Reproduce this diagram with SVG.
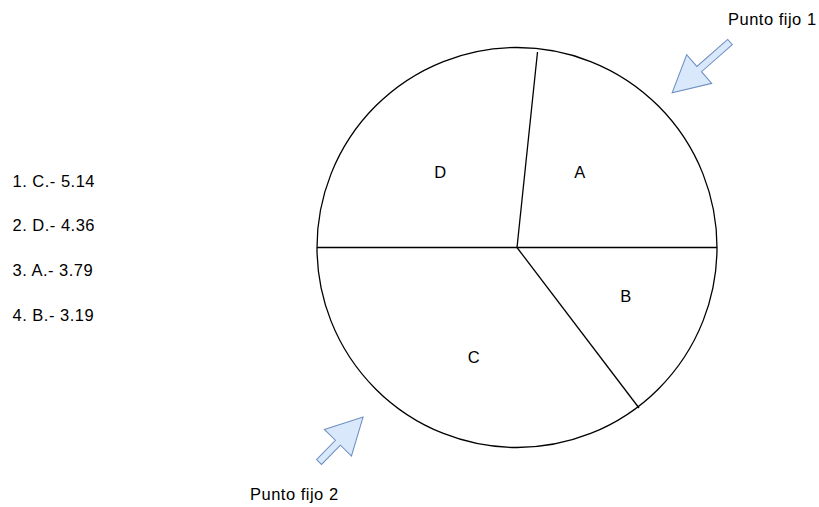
<svg xmlns="http://www.w3.org/2000/svg" width="819" height="507" viewBox="0 0 819 507">
<style>
text{font-family:"Liberation Sans",Arial,sans-serif;font-size:16.5px;letter-spacing:0.5px;fill:#000}
.ln{stroke:#000;stroke-width:1.3;fill:none}
.arr{fill:#dae8fc;stroke:#6c8ebf;stroke-width:1}
</style>
<defs>
<path id="blk" d="M0,-3.5 L41,-3.5 L41,-19 L77,0 L41,19 L41,3.5 L0,3.5 Z"/>
<path id="blk2" d="M0,-3.5 L27,-3.5 L27,-19 L63,0 L27,19 L27,3.5 L0,3.5 Z"/>
</defs>
<rect width="819" height="507" fill="#fff"/>
<g id="pie">
<circle class="ln" cx="517" cy="247.5" r="200"/>
</g>
<g id="connectors">
<line class="ln" x1="317" y1="247.5" x2="717" y2="247.5"/>
<line class="ln" x1="517" y1="247.5" x2="537.5" y2="52"/>
<line class="ln" x1="517" y1="247.5" x2="639" y2="408"/>
</g>
<g id="labelA"><text x="580" y="177.5" text-anchor="middle">A</text></g>
<g id="labelB"><text x="626" y="302" text-anchor="middle">B</text></g>
<g id="labelC"><text x="474" y="363" text-anchor="middle">C</text></g>
<g id="labelD"><text x="440.5" y="177.5" text-anchor="middle">D</text></g>
<g id="arrow1"><use href="#blk" class="arr" transform="translate(730,42) rotate(138.7)"/></g>
<g id="arrow2"><use href="#blk2" class="arr" transform="translate(319,462) rotate(-45.6)"/></g>
<g id="punto1"><text x="728" y="24.5">Punto fijo 1</text></g>
<g id="punto2"><text x="250" y="500">Punto fijo 2</text></g>
<g id="list">
<text x="12.5" y="186.5">1. C.- 5.14</text>
<text x="12.5" y="231">2. D.- 4.36</text>
<text x="12.5" y="275.5">3. A.- 3.79</text>
<text x="12.5" y="320.5">4. B.- 3.19</text>
</g>
</svg>
